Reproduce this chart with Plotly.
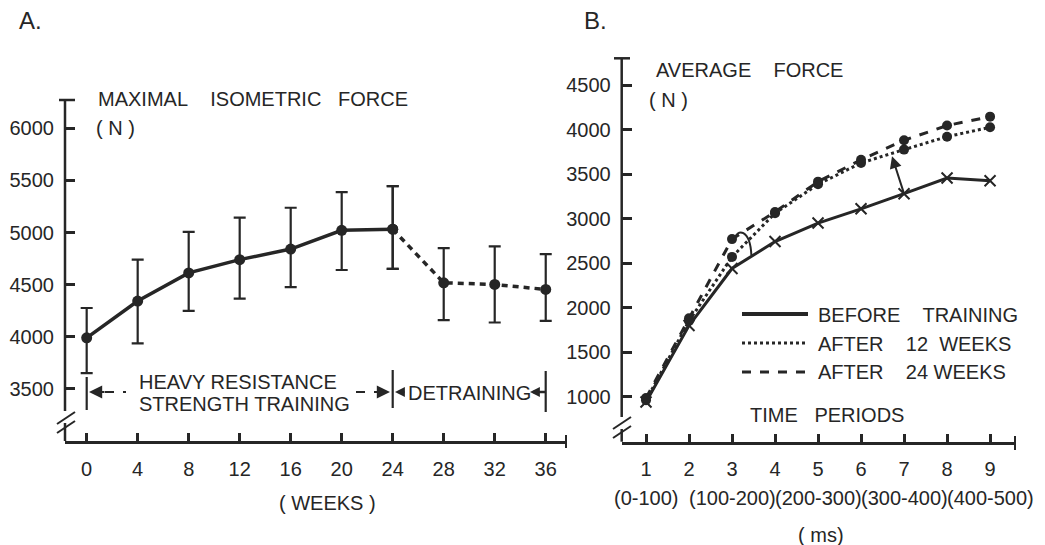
import plotly.graph_objects as go

# ---------------- data ----------------
weeks_train = [0, 4, 8, 12, 16, 20, 24]
force_train = [3990, 4343, 4613, 4740, 4842, 5022, 5032]
upper_train = [4276, 4740, 5007, 5143, 5238, 5388, 5445]
lower_train = [3651, 3937, 4248, 4366, 4476, 4641, 4651]

weeks_detrain = [24, 28, 32, 36]
force_detrain = [5032, 4518, 4502, 4454]
upper_detrain = [5445, 4851, 4867, 4794]
lower_detrain = [4651, 4159, 4137, 4152]

periods = [1, 2, 3, 4, 5, 6, 7, 8, 9]
before_training = [940, 1800, 2440, 2742, 2950, 3110, 3280, 3455, 3425]
after_12_weeks = [960, 1850, 2570, 3060, 3385, 3625, 3775, 3920, 4025]
after_24_weeks = [985, 1880, 2770, 3075, 3415, 3660, 3880, 4045, 4145]

a_xticks = [0, 4, 8, 12, 16, 20, 24, 28, 32, 36]
a_yticks = [3500, 4000, 4500, 5000, 5500, 6000]
b_yticks = [1000, 1500, 2000, 2500, 3000, 3500, 4000, 4500]
ms_labels = ["(0-100)", "(100-200)", "(200-300)", "(300-400)", "(400-500)"]
ms_positions = [1, 3, 5, 7, 9]

INK = "#262626"
FONT = "Liberation Sans"
W, H = 1045, 545


def X(p):
    return p / W


def Y(p):
    return 1 - p / H


fig = go.Figure()

err_style = dict(type="data", symmetric=False, color=INK, thickness=2.2, width=6)

fig.add_trace(go.Scatter(
    x=weeks_train, y=force_train, mode="lines+markers",
    line=dict(color=INK, width=3.5), marker=dict(size=11, color=INK),
    error_y=dict(array=[u - m for u, m in zip(upper_train, force_train)],
                 arrayminus=[m - l for l, m in zip(lower_train, force_train)], **err_style),
    xaxis="x", yaxis="y", showlegend=False))
fig.add_trace(go.Scatter(
    x=weeks_detrain, y=force_detrain, mode="lines+markers",
    line=dict(color=INK, width=3.5, dash="6px,5px"), marker=dict(size=11, color=INK),
    error_y=dict(array=[u - m for u, m in zip(upper_detrain, force_detrain)],
                 arrayminus=[m - l for l, m in zip(lower_detrain, force_detrain)], **err_style),
    xaxis="x", yaxis="y", showlegend=False))

fig.add_trace(go.Scatter(
    x=periods, y=before_training, mode="lines+markers",
    line=dict(color=INK, width=3),
    marker=dict(symbol="x-thin-open", size=11, line=dict(width=2, color=INK), color=INK),
    xaxis="x2", yaxis="y2", showlegend=False))
fig.add_trace(go.Scatter(
    x=periods, y=after_12_weeks, mode="lines+markers",
    line=dict(color=INK, width=3, dash="dot"), marker=dict(size=10, color=INK),
    xaxis="x2", yaxis="y2", showlegend=False))
fig.add_trace(go.Scatter(
    x=periods, y=after_24_weeks, mode="lines+markers",
    line=dict(color=INK, width=3, dash="dash"), marker=dict(size=10, color=INK),
    xaxis="x2", yaxis="y2", showlegend=False))

tickfont = dict(family=FONT, size=20, color=INK)
common_x = dict(showline=True, linecolor=INK, linewidth=2.5, ticks="inside", ticklen=8,
                tickwidth=2.5, tickcolor=INK, showgrid=False, zeroline=False, tickfont=tickfont,
                ticklabelstandoff=8)
common_y = dict(showline=False, ticks="inside", ticklen=10, tickwidth=2.5, tickcolor=INK,
                showgrid=False, zeroline=False, tickfont=tickfont, ticklabelstandoff=10)

fig.update_layout(
    width=W, height=H, margin=dict(l=0, r=0, t=0, b=0),
    paper_bgcolor="white", plot_bgcolor="white",
    font=dict(family=FONT, size=20, color=INK),
    xaxis=dict(domain=[X(65), X(566)], range=[-1.70, 37.59], tickvals=a_xticks,
               anchor="y", **common_x),
    yaxis=dict(domain=[Y(441), Y(100)], range=[3000, 6272], tickvals=a_yticks,
               anchor="x", **common_y),
    xaxis2=dict(domain=[X(621.7), X(1015)], range=[0.435, 9.58], tickvals=periods,
                anchor="y2", **common_x),
    yaxis2=dict(domain=[Y(441.7), Y(58.3)], range=[495, 4800], tickvals=b_yticks,
                anchor="x2", **common_y),
)

shapes = []


def pline(x0, y0, x1, y1, width=2.5, dash=None):
    d = dict(type="line", xref="paper", yref="paper", x0=X(x0), y0=Y(y0), x1=X(x1), y1=Y(y1),
             line=dict(color=INK, width=width))
    if dash:
        d["line"]["dash"] = dash
    shapes.append(d)


# Panel A y axis with break
pline(65, 441, 65, 423)
pline(65, 411, 65, 100)
pline(57, 424, 75, 412, width=2)
pline(57, 433, 75, 421, width=2)
pline(59, 100, 75, 100)          # top cap
pline(566, 435, 566, 448, width=2)  # x end cap

# Panel B y axis with break
pline(621.7, 441.7, 621.7, 429)
pline(621.7, 417, 621.7, 58.3)
pline(613, 429, 631, 417, width=2)
pline(613, 438, 631, 426, width=2)
pline(614, 58.3, 630, 58.3)
pline(1015, 436, 1015, 450, width=2)

# Panel A training / detraining markers
pline(86.7, 377, 86.7, 410, width=2.2)
pline(105, 392, 126, 392, width=2, dash="dash")
pline(392.7, 370, 392.7, 408, width=2.2)
pline(356, 392, 378, 392, width=2, dash="dash")
pline(545.7, 371, 545.7, 412, width=2.2)
pline(533, 392, 545.7, 392, width=2.5)

# Legend in panel B
pline(742, 314, 808, 314, width=4)
pline(742, 343, 808, 343, width=3, dash="dot")
pline(742, 372, 808, 372, width=3, dash="dash")

# curved bracket near period 3
shapes.append(dict(type="path", xref="x2", yref="y2",
                   path="M 3.45,2590 C 3.42,2880 3.12,2900 3.04,2760",
                   line=dict(color=INK, width=2)))

fig.update_layout(shapes=shapes)

ann = []


def text(t, x, y, xanchor="center", size=20):
    ann.append(dict(text=t, x=X(x), y=Y(y), xref="paper", yref="paper", showarrow=False,
                    xanchor=xanchor, yanchor="middle", font=dict(family=FONT, size=size, color=INK)))


def arrow(x_tip, y_tip, x_tail, y_tail, size=1.2):
    ann.append(dict(text="", x=X(x_tip), y=Y(y_tip), ax=x_tail - x_tip, ay=y_tail - y_tip,
                    xref="paper", yref="paper", axref="pixel", ayref="pixel",
                    showarrow=True, arrowhead=2, arrowsize=size, arrowwidth=2.2, arrowcolor=INK))


NB = "\u00a0"
text("A.", 17, 21, "left", size=24)
text("B.", 582, 21, "left", size=24)
text(f"MAXIMAL{NB*4}ISOMETRIC{NB*3}FORCE", 96, 99, "left")
text(f"({NB}N{NB})", 94, 128, "left")
text(f"AVERAGE{NB*4}FORCE", 654, 70, "left")
text(f"({NB}N{NB})", 647, 100, "left")
text("HEAVY RESISTANCE", 137, 382, "left")
text("STRENGTH TRAINING", 137, 404, "left")
text("DETRAINING", 406, 393, "left")
text(f"({NB}WEEKS{NB})", 327, 503)
text(f"BEFORE{NB*4}TRAINING", 816, 315, "left")
text(f"AFTER{NB*4}12{NB*2}WEEKS", 816, 344, "left")
text(f"AFTER{NB*4}24{NB}WEEKS", 816, 372, "left")
text(f"TIME{NB*3}PERIODS", 748, 415, "left")
text(f"({NB}ms)", 821, 535)

arrow(89, 392, 106, 392)
arrow(390, 392, 374, 392)
arrow(395, 392, 406, 392, size=0.9)
arrow(530, 392, 540, 392, size=0.9)

for lab, pos in zip(ms_labels, ms_positions):
    ann.append(dict(text=lab, x=pos, y=Y(498), xref="x2", yref="paper", showarrow=False,
                    xanchor="center", yanchor="middle", font=dict(family=FONT, size=20, color=INK)))

# arrow from before-training up to after-training at period 7
ann.append(dict(text="", x=6.72, y=3700, ax=7, ay=before_training[6], xref="x2", yref="y2",
                axref="x2", ayref="y2", showarrow=True, arrowhead=2, arrowsize=1.2,
                arrowwidth=2, arrowcolor=INK))

fig.update_layout(annotations=ann)

fig.write_html("out.html")
